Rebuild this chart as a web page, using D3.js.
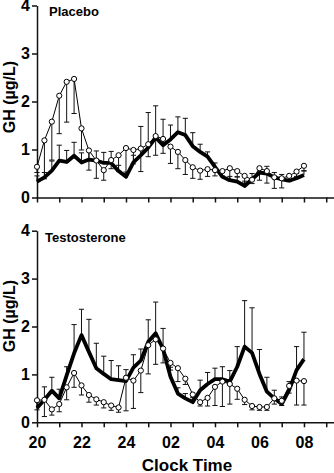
<!DOCTYPE html>
<html>
<head>
<meta charset="utf-8">
<script src="https://cdn.jsdelivr.net/npm/d3@7"></script>
<style>
  body { margin: 0; background: #fff; }
  svg { display: block; }
  text { font-family: "Liberation Sans", Arial, Helvetica, sans-serif; font-weight: bold; fill: #000; }
</style>
</head>
<body>
<div id="container"></div>
<script>
/* CONSTANTS */
const width = 334,
      height = 473,
      axisLeft = 37;

// samples every 20 min from 20:00 to 08:00
const hours = d3.range(37).map(i => 20 + i / 3);
const hourTicks = d3.range(20, 34);
const xTickLabels = ["20", "22", "24", "02", "04", "06", "08"];
const yTicks = [0, 1, 2, 3, 4];

/* DATA: GH (ug/L), mean and SEM */
const placeboOpen = [0.64, 1.19, 1.58, 2.12, 2.41, 2.47, 1.44, 0.98, 0.77, 0.57, 0.78, 0.88, 1.03, 0.99, 1.02, 1.11, 1.28, 1.22, 1.06,
  0.95, 0.78, 0.63, 0.56, 0.59, 0.57, 0.55, 0.61, 0.55, 0.45, 0.37, 0.61, 0.55, 0.42, 0.40, 0.45, 0.54, 0.66];
const placeboOpenErr = [0.12, 0.8, 0.8, 0.79, 0.84, 0.72, 0.45, 0.41, 0.37, 0.21, 0.18, 0.33, 0.53, 0.29, 0.48, 0.26, 0.4, 0.3, 0.35,
  0.35, 0.3, 0.23, 0.18, 0.15, 0.12, 0.1, 0.26, 0.12, 0.15, 0.08, 0.25, 0.25, 0.23, 0.2, 0.12, 0.1, 0.1];
const placeboClosed = [0.33, 0.42, 0.56, 0.77, 0.74, 0.87, 0.73, 0.79, 0.77, 0.72, 0.72, 0.55, 0.43, 0.73, 0.88, 1.04, 1.25, 1.09, 1.21,
  1.36, 1.3, 1.07, 0.95, 0.85, 0.64, 0.43, 0.36, 0.33, 0.24, 0.38, 0.52, 0.5, 0.42, 0.38, 0.35, 0.4, 0.47];
const placeboClosedErr = [0.12, 0.1, 0.2, 0.32, 0.24, 0.28, 0.2, 0.2, 0.2, 0.22, 0.24, 0.12, 0.1, 0.15, 0.6, 0.73, 0.66, 0.54, 0.3,
  0.32, 0.35, 0.28, 0.16, 0.1, 0.08, 0.1, 0.08, 0.1, 0.1, 0.12, 0.1, 0.15, 0.1, 0.1, 0.08, 0.1, 0.08];

const testoOpen = [0.46, 0.47, 0.27, 0.38, 0.73, 1.03, 0.77, 0.57, 0.48, 0.42, 0.35, 0.31, 0.93, 0.87, 1.08, 1.61, 1.73, 1.54, 1.24,
  1.13, 0.91, 0.58, 0.42, 0.51, 0.74, 0.85, 0.8, 0.7, 0.47, 0.34, 0.32, 0.32, 0.5, 0.45, 0.76, 0.87, 0.86];
const testoOpenErr = [0.2, 0.35, 0.12, 0.16, 0.26, 0.3, 0.2, 0.15, 0.12, 0.12, 0.1, 0.1, 0.69, 0.58, 0.46, 0.6, 0.52, 0.3, 0.15,
  0.28, 0.12, 0.1, 0.08, 0.17, 0.39, 0.52, 0.42, 0.22, 0.1, 0.08, 0.07, 0.07, 0.12, 0.1, 0.15, 0.51, 0.5];
const testoClosed = [0.3, 0.47, 0.66, 0.5, 0.98, 1.44, 1.82, 1.47, 1.13, 1.01, 0.9, 0.88, 0.86, 1.14, 1.29, 1.68, 1.86, 1.53, 0.95,
  0.6, 0.5, 0.42, 0.67, 0.8, 0.9, 0.9, 0.85, 1.16, 1.58, 1.45, 1.01, 0.64, 0.5, 0.38, 0.67, 1.09, 1.32];
const testoClosedErr = [0.15, 0.27, 0.28, 0.19, 0.18, 0.6, 0.54, 0.68, 0.52, 0.37, 0.39, 0.3, 0.24, 0.27, 0.24, 0.46, 0.65, 0.43, 0.2,
  0.12, 0.1, 0.1, 0.21, 0.24, 0.23, 0.26, 0.23, 0.42, 0.96, 0.94, 0.51, 0.3, 0.17, 0.15, 0.18, 0.49, 0.56];

/* PANEL LAYOUT */
const panels = [
  { title: "Placebo", titleX: 49, titleY: 16, top: 5.5, bottom: 197.5, labelY: 97, showLabels: false,
    open: placeboOpen, openErr: placeboOpenErr, closed: placeboClosed, closedErr: placeboClosedErr },
  { title: "Testosterone", titleX: 45, titleY: 242, top: 230.7, bottom: 422.3, labelY: 316, showLabels: true,
    open: testoOpen, openErr: testoOpenErr, closed: testoClosed, closedErr: testoClosedErr }
];

const svg = d3.select("#container")
  .append("svg")
  .attr("width", width)
  .attr("height", height);

// x scale runs a little past 09:00 so the axis reaches the edge
const xScale = d3.scaleLinear()
  .domain([20, 33.35])
  .range([axisLeft, width]);

const hourLabel = h => {
  if (h % 2 !== 0) return "";
  const i = (h - 20) / 2;
  return xTickLabels[i] || "";
};

// one-sided error bar with a small cap
const errPath = (x, y0, y1) => `M${x},${y0}V${y1}M${x - 2.6},${y1}H${x + 2.6}`;

panels.forEach(p => {
  const yScale = d3.scaleLinear()
    .domain([0, 4])
    .range([p.bottom, p.top]);

  const g = svg.append("g");

  // + AXES
  const xAxis = d3.axisBottom(xScale)
    .tickValues(hourTicks)
    .tickSize(5)
    .tickSizeOuter(0)
    .tickPadding(9)
    .tickFormat(p.showLabels ? hourLabel : () => "");

  const yAxis = d3.axisLeft(yScale)
    .tickValues(yTicks)
    .tickSize(5)
    .tickSizeOuter(0)
    .tickPadding(2)
    .tickFormat(d3.format("d"));

  const gx = g.append("g")
    .attr("transform", `translate(0, ${p.bottom})`)
    .call(xAxis);

  const gy = g.append("g")
    .attr("transform", `translate(${axisLeft}, 0)`)
    .call(yAxis);

  [gx, gy].forEach(ax => {
    ax.selectAll("path, line").attr("stroke", "#111").attr("stroke-width", 1.5);
    ax.selectAll("text").attr("font-size", 16).attr("font-family", null);
  });

  g.append("text")
    .attr("transform", `translate(15, ${p.labelY}) rotate(-90)`)
    .attr("text-anchor", "middle")
    .attr("font-size", 16)
    .text("GH (µg/L)");

  g.append("text")
    .attr("x", p.titleX)
    .attr("y", p.titleY)
    .attr("font-size", 13)
    .text(p.title);

  // + ERROR BARS (closed series up, open series down)
  g.append("g")
    .attr("stroke", "#111")
    .attr("stroke-width", 1)
    .attr("fill", "none")
    .selectAll("path")
    .data(hours)
    .join("path")
    .attr("d", (h, i) => errPath(xScale(h), yScale(p.closed[i]), yScale(p.closed[i] + p.closedErr[i])));

  g.append("g")
    .attr("stroke", "#111")
    .attr("stroke-width", 1)
    .attr("fill", "none")
    .selectAll("path")
    .data(hours)
    .join("path")
    .attr("d", (h, i) => errPath(xScale(h), yScale(p.open[i]), yScale(p.open[i] - p.openErr[i])));

  // + LINES
  const line = values => d3.line()
    .x((h, i) => xScale(h))
    .y((h, i) => yScale(values[i]))(hours);

  g.append("path")
    .attr("d", line(p.closed))
    .attr("fill", "none")
    .attr("stroke", "#000")
    .attr("stroke-width", 3.8)
    .attr("stroke-linejoin", "round");

  g.append("path")
    .attr("d", line(p.open))
    .attr("fill", "none")
    .attr("stroke", "#000")
    .attr("stroke-width", 1);

  g.append("g")
    .selectAll("circle")
    .data(hours)
    .join("circle")
    .attr("cx", h => xScale(h))
    .attr("cy", (h, i) => yScale(p.open[i]))
    .attr("r", 2.6)
    .attr("fill", "#fff")
    .attr("stroke", "#000")
    .attr("stroke-width", 1);
});

svg.append("text")
  .attr("x", 187)
  .attr("y", 471)
  .attr("text-anchor", "middle")
  .attr("font-size", 17)
  .text("Clock Time");
</script>
</body>
</html>
